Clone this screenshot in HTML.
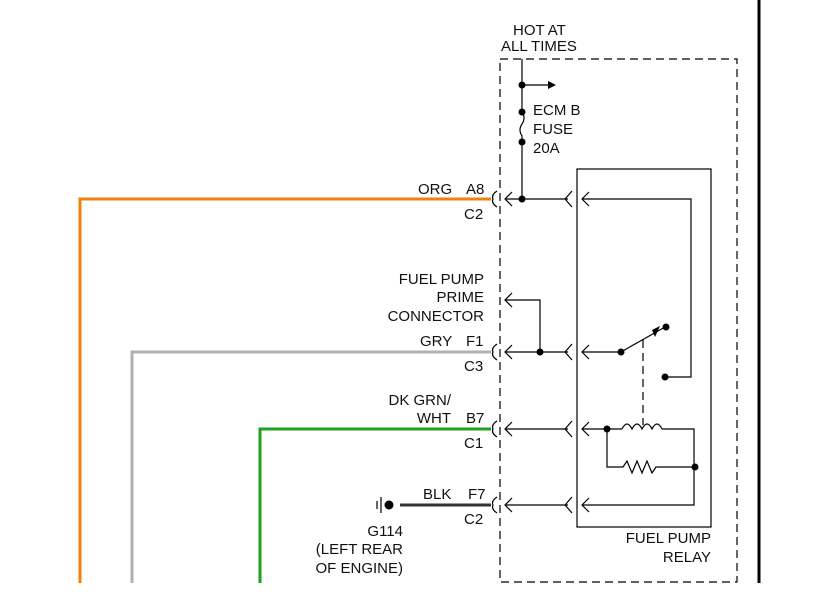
<!DOCTYPE html>
<html><head><style>
body{margin:0;background:#fff;}
svg text{font-family:"Liberation Sans",sans-serif;font-size:15px;fill:#111;}
</style></head><body>
<svg width="835" height="607" viewBox="0 0 835 607" xmlns="http://www.w3.org/2000/svg">
<rect width="835" height="607" fill="#fff"/>
<line x1="759" y1="0" x2="759" y2="583" stroke="#000" stroke-width="3"/>
<rect x="500" y="59" width="237" height="523" fill="none" stroke="#000" stroke-width="1.2" stroke-dasharray="8,5"/>
<rect x="577" y="169" width="134" height="358" fill="none" stroke="#000" stroke-width="1.2"/>
<polyline points="491,199 80,199 80,583" fill="none" stroke="#f08010" stroke-width="3"/>
<polyline points="491,352 132,352 132,583" fill="none" stroke="#b0b0b0" stroke-width="3"/>
<polyline points="491,429 260,429 260,583" fill="none" stroke="#20a020" stroke-width="3"/>
<line x1="400" y1="505" x2="491" y2="505" stroke="#333" stroke-width="3"/>
<circle cx="389" cy="505" r="4.5" fill="#000"/>
<line x1="381" y1="497" x2="381" y2="513" stroke="#000" stroke-width="1.2"/>
<line x1="377" y1="501" x2="377" y2="509" stroke="#000" stroke-width="1.2"/>
<g fill="none" stroke="#000" stroke-width="1.2">
<path d="M497,191 Q491,195 493,199 Q491,203 497,207"/>
<path d="M497,344 Q491,348 493,352 Q491,356 497,360"/>
<path d="M497,421 Q491,425 493,429 Q491,433 497,437"/>
<path d="M497,497 Q491,501 493,505 Q491,509 497,513"/>
<line x1="505" y1="199" x2="568" y2="199"/>
<line x1="505" y1="352" x2="568" y2="352"/>
<line x1="505" y1="429" x2="568" y2="429"/>
<line x1="505" y1="505" x2="568" y2="505"/>
<path d="M512,192 L505,199 L512,206"/><path d="M512,345 L505,352 L512,359"/><path d="M512,422 L505,429 L512,436"/><path d="M512,498 L505,505 L512,512"/>
<path d="M572,191 L565,199 L572,207"/><path d="M572,344 L565,352 L572,360"/><path d="M572,421 L565,429 L572,437"/><path d="M572,497 L565,505 L572,513"/>
<path d="M589,192 L582,199 L589,206"/><path d="M589,345 L582,352 L589,359"/><path d="M589,422 L582,429 L589,436"/><path d="M589,498 L582,505 L589,512"/>
<line x1="522" y1="59" x2="522" y2="112"/>
<path d="M522,112 Q526,118 522,124 Q518,130 522,136 L522,199"/>
<line x1="522" y1="85" x2="548" y2="85"/>
<polyline points="540,352 540,300 505,300"/>
<path d="M512,293 L505,300 L512,307"/>
<polyline points="582,199 691,199 691,377 665,377"/>
<line x1="582" y1="352" x2="621" y2="352"/>
<line x1="621" y1="352" x2="665" y2="327"/>
<line x1="643" y1="340" x2="643" y2="425" stroke-dasharray="8,5"/>
<line x1="582" y1="429" x2="622" y2="429"/>
<path d="M622,429 q5,-10 10,0 q5,-10 10,0 q5,-10 10,0 q5,-10 10,0"/>
<polyline points="662,429 694,429 694,505 582,505"/>
<polyline points="607,429 607,467 623,467 627,461 632,473 637,461 642,473 647,461 652,473 656,467 694,467"/>
</g>
<polygon points="548,81 556,85 548,89" fill="#000"/>
<polygon points="652,330 660,326 655,337" fill="#000"/>
<g fill="#000">
<circle cx="522" cy="85" r="3.5"/><circle cx="522" cy="112" r="3.5"/><circle cx="522" cy="142" r="3.5"/><circle cx="522" cy="199" r="3.5"/>
<circle cx="540" cy="352" r="3.5"/><circle cx="621" cy="352" r="3.5"/><circle cx="666" cy="327" r="3.5"/><circle cx="665" cy="377" r="3.5"/>
<circle cx="607" cy="429" r="3.5"/><circle cx="695" cy="467" r="3.5"/>
</g>
<text x="513" y="35">HOT AT</text>
<text x="501" y="51">ALL TIMES</text>
<text x="533" y="115">ECM B</text>
<text x="533" y="134">FUSE</text>
<text x="533" y="153">20A</text>
<text x="418" y="194">ORG</text><text x="466" y="194">A8</text><text x="464" y="219">C2</text>
<text x="484" y="284" text-anchor="end">FUEL PUMP</text>
<text x="484" y="302" text-anchor="end">PRIME</text>
<text x="484" y="321" text-anchor="end">CONNECTOR</text>
<text x="420" y="346">GRY</text><text x="466" y="346">F1</text><text x="464" y="371">C3</text>
<text x="451" y="405" text-anchor="end">DK GRN/</text>
<text x="451" y="423" text-anchor="end">WHT</text><text x="466" y="423">B7</text><text x="464" y="448">C1</text>
<text x="423" y="499">BLK</text><text x="468" y="499">F7</text><text x="464" y="524">C2</text>
<text x="403" y="536" text-anchor="end">G114</text>
<text x="403" y="554" text-anchor="end">(LEFT REAR</text>
<text x="403" y="573" text-anchor="end">OF ENGINE)</text>
<text x="711" y="543" text-anchor="end">FUEL PUMP</text>
<text x="711" y="562" text-anchor="end">RELAY</text>
</svg>
</body></html>
